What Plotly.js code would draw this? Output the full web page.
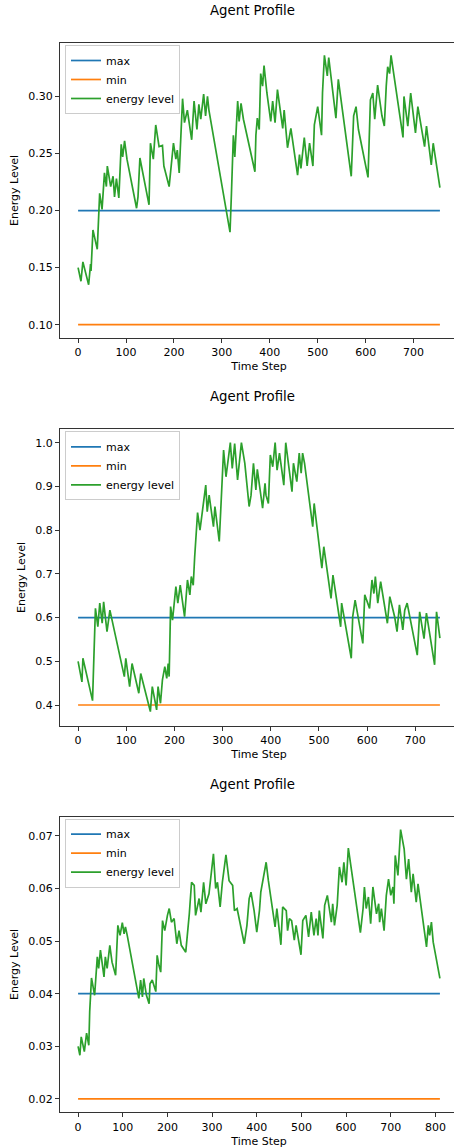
<!DOCTYPE html>
<html><head><meta charset="utf-8">
<script src="https://cdn.plot.ly/plotly-3.0.1.min.js"></script>
<style>html,body{margin:0;padding:0;overflow:hidden;background:#fff;width:454px;height:1148px}#chart{width:460px;height:1148px}</style>
</head><body><div id="chart"></div>
<script>
// ---- data ----
const seriesNames = ["max", "min", "energy level"];
const maxLevels = [0.2, 0.6, 0.04];
const minLevels = [0.1, 0.4, 0.02];
const lastSteps = [755, 751, 810];

const steps1 = [0,6,10,22,26,27,31,40,45,50,55,59,61,68,73,76,80,85,90,93,97,102,122,125,129,148,151,157,162,169,176,179,190,195,199,204,207,211,213,218,222,228,237,242,248,252,256,262,266,270,273,317,320,324,327,333,336,340,345,369,371,374,378,381,385,388,394,402,406,411,416,423,427,430,437,444,458,462,465,472,478,483,490,493,500,508,510,514,520,523,538,543,570,575,580,585,605,610,615,619,625,634,639,643,646,650,653,678,680,688,694,704,709,723,727,737,741,755];
const energy1 = [0.150,0.138,0.155,0.135,0.153,0.147,0.183,0.166,0.215,0.201,0.233,0.221,0.239,0.221,0.230,0.212,0.228,0.211,0.258,0.247,0.261,0.245,0.202,0.212,0.246,0.205,0.259,0.245,0.275,0.256,0.257,0.239,0.221,0.239,0.259,0.245,0.253,0.233,0.250,0.298,0.277,0.288,0.262,0.296,0.271,0.293,0.280,0.302,0.283,0.300,0.288,0.181,0.215,0.266,0.247,0.296,0.278,0.294,0.280,0.234,0.266,0.281,0.271,0.320,0.309,0.327,0.303,0.278,0.296,0.277,0.306,0.283,0.272,0.288,0.255,0.272,0.231,0.249,0.237,0.264,0.239,0.259,0.239,0.275,0.291,0.266,0.303,0.336,0.318,0.334,0.281,0.315,0.230,0.283,0.291,0.271,0.229,0.297,0.303,0.280,0.310,0.283,0.274,0.309,0.326,0.320,0.336,0.264,0.300,0.274,0.303,0.268,0.291,0.256,0.274,0.240,0.259,0.220];

const steps2 = [0,8,10,30,33,36,41,45,50,53,60,66,96,99,107,112,126,130,150,154,163,166,171,175,180,184,187,189,192,196,203,207,212,221,227,232,235,239,242,248,253,265,268,272,281,284,293,298,302,307,316,320,325,331,339,346,355,359,364,369,372,383,388,390,395,399,404,409,413,418,427,431,438,444,447,454,459,463,466,470,487,490,506,510,525,529,545,547,567,570,575,591,595,605,610,614,617,622,628,642,647,657,662,667,674,678,683,704,709,718,723,740,744,751];
const energy2 = [0.500,0.453,0.507,0.410,0.517,0.621,0.579,0.633,0.587,0.636,0.568,0.617,0.465,0.507,0.442,0.495,0.427,0.472,0.385,0.442,0.389,0.442,0.404,0.457,0.488,0.461,0.495,0.465,0.625,0.594,0.671,0.633,0.674,0.602,0.686,0.652,0.694,0.674,0.739,0.840,0.800,0.903,0.842,0.880,0.808,0.854,0.774,0.880,0.983,0.922,1.000,0.941,0.998,0.915,1.000,0.953,0.854,0.880,0.953,0.892,0.939,0.850,0.907,0.880,0.861,0.972,0.945,1.000,0.937,0.976,0.903,1.000,0.945,0.888,0.953,0.911,0.976,0.930,0.976,0.953,0.808,0.861,0.713,0.762,0.644,0.697,0.579,0.633,0.507,0.602,0.640,0.541,0.652,0.621,0.686,0.655,0.694,0.633,0.682,0.587,0.648,0.602,0.568,0.629,0.572,0.617,0.633,0.514,0.613,0.552,0.610,0.492,0.613,0.553];

const steps3 = [0,4,7,14,19,24,26,30,37,43,46,50,58,61,65,71,76,84,89,94,99,103,106,110,136,140,144,147,153,159,161,166,174,177,181,185,189,194,200,204,209,215,221,226,231,241,249,254,260,263,271,275,281,286,293,303,308,312,318,323,331,338,346,350,356,372,378,383,387,394,400,406,409,413,417,421,426,441,445,454,458,466,469,473,478,484,488,499,503,510,516,522,528,533,537,540,548,552,558,567,570,574,578,580,585,591,595,600,605,632,638,641,645,650,655,660,668,673,675,679,685,690,695,700,705,707,710,716,722,730,735,740,746,750,757,761,780,784,787,791,795,810];
const energy3 = [0.0300,0.0283,0.0318,0.0290,0.0325,0.0302,0.0366,0.0430,0.0397,0.0470,0.0448,0.0483,0.0432,0.0470,0.0448,0.0492,0.0460,0.0435,0.0530,0.0511,0.0535,0.0514,0.0527,0.0511,0.0391,0.0426,0.0394,0.0429,0.0397,0.0381,0.0419,0.0426,0.0404,0.0473,0.0454,0.0441,0.0539,0.0520,0.0549,0.0562,0.0536,0.0543,0.0495,0.0520,0.0492,0.0479,0.0552,0.0612,0.0606,0.0549,0.0581,0.0555,0.0612,0.0571,0.0590,0.0666,0.0600,0.0612,0.0565,0.0612,0.0664,0.0615,0.0606,0.0558,0.0562,0.0495,0.0530,0.0581,0.0593,0.0558,0.0517,0.0558,0.0593,0.0612,0.0637,0.0650,0.0615,0.0527,0.0562,0.0493,0.0565,0.0558,0.0520,0.0543,0.0539,0.0502,0.0530,0.0474,0.0539,0.0549,0.0508,0.0555,0.0511,0.0543,0.0511,0.0558,0.0505,0.0568,0.0587,0.0536,0.0571,0.0530,0.0555,0.0568,0.0641,0.0612,0.0650,0.0606,0.0677,0.0516,0.0562,0.0603,0.0562,0.0584,0.0533,0.0603,0.0552,0.0571,0.0536,0.0562,0.0520,0.0587,0.0618,0.0587,0.0603,0.0571,0.0663,0.0625,0.0712,0.0675,0.0618,0.0656,0.0593,0.0628,0.0574,0.0609,0.0489,0.0530,0.0511,0.0536,0.0498,0.0429];

const xTicks = [[0,100,200,300,400,500,600,700],[0,100,200,300,400,500,600,700],[0,100,200,300,400,500,600,700,800]];
const yTicks = [[0.10,0.15,0.20,0.25,0.30],[0.4,0.5,0.6,0.7,0.8,0.9,1.0],[0.02,0.03,0.04,0.05,0.06,0.07]];
const yFormats = [".2f", ".1f", ".2f"];
const chartTitle = "Agent Profile";
const xTitle = "Time Step";
const yTitle = "Energy Level";

// ---- layout helpers ----
const H = 1148;
const colors = ["#1f77b4", "#ff7f0e", "#2ca02c"];
const FONT = "DejaVu Sans, Verdana, sans-serif";
const plotTops = [43, 429.3, 816.7];
const plotBottoms = [338, 725.7, 1112.3];
const titleYs = [10.7, 396.7, 784];
const xRanges = [[-37.75, 792.75], [-37.55, 788.55], [-40.5, 850.5]];
const yRanges = [[0.0883, 0.3468], [0.3527, 1.0306], [0.01745, 0.07366]];
const allSteps = [steps1, steps2, steps3];
const allEnergy = [energy1, energy2, energy3];

const data = [];
const layout = {
  width: 460, height: H,
  margin: {l: 60, r: 2, t: 0, b: 0},
  paper_bgcolor: "#fff", plot_bgcolor: "#fff",
  font: {family: FONT, size: 11, color: "#000"},
  showlegend: true,
  annotations: []
};

for (let i = 0; i < 3; i++) {
  const sfx = i === 0 ? "" : String(i + 1);
  const xa = "x" + sfx, ya = "y" + sfx;
  const lg = "legend" + sfx;
  const x0 = 0, x1 = lastSteps[i];
  data.push({type: "scatter", mode: "lines", name: seriesNames[0], x: [x0, x1], y: [maxLevels[i], maxLevels[i]],
    xaxis: xa, yaxis: ya, legend: lg, line: {color: colors[0], width: 1.7}});
  data.push({type: "scatter", mode: "lines", name: seriesNames[1], x: [x0, x1], y: [minLevels[i], minLevels[i]],
    xaxis: xa, yaxis: ya, legend: lg, line: {color: colors[1], width: 1.7}});
  data.push({type: "scatter", mode: "lines", name: seriesNames[2], x: allSteps[i], y: allEnergy[i],
    xaxis: xa, yaxis: ya, legend: lg, line: {color: colors[2], width: 1.7}});

  const dom = [1 - plotBottoms[i] / H, 1 - plotTops[i] / H];
  const common = {
    showline: true, mirror: true, linecolor: "#333", linewidth: 1,
    ticks: "outside", ticklen: 4, tickwidth: 1, tickcolor: "#333",
    showgrid: false, zeroline: false, fixedrange: true,
    tickfont: {family: FONT, size: 11, color: "#000"}
  };
  layout["xaxis" + sfx] = Object.assign({}, common, {
    domain: [0, 1], anchor: ya, range: xRanges[i], tickmode: "array", tickvals: xTicks[i],
    title: {text: xTitle, font: {family: FONT, size: 11, color: "#000"}, standoff: 4}
  });
  layout["yaxis" + sfx] = Object.assign({}, common, {
    domain: dom, anchor: xa, range: yRanges[i], tickmode: "array", tickvals: yTicks[i], tickformat: yFormats[i],
    title: {text: yTitle, font: {family: FONT, size: 11, color: "#000"}, standoff: 7}
  });
  layout[lg] = {
    x: 5 / 398, y: 1 - (plotTops[i] + 2) / H, xref: "paper", yref: "paper",
    xanchor: "left", yanchor: "top",
    bgcolor: "rgba(255,255,255,0.8)", bordercolor: "#ccc", borderwidth: 1,
    font: {family: FONT, size: 11, color: "#000"}, tracegroupgap: 0, itemwidth: 30
  };
  layout.annotations.push({
    text: chartTitle, xref: "paper", yref: "paper", x: (252 - 60) / 398, y: 1 - titleYs[i] / H,
    xanchor: "center", yanchor: "middle", showarrow: false,
    font: {family: FONT, size: 13.3, color: "#000"}
  });
}

Plotly.newPlot("chart", data, layout, {staticPlot: true, displayModeBar: false});
</script>
</body></html>
